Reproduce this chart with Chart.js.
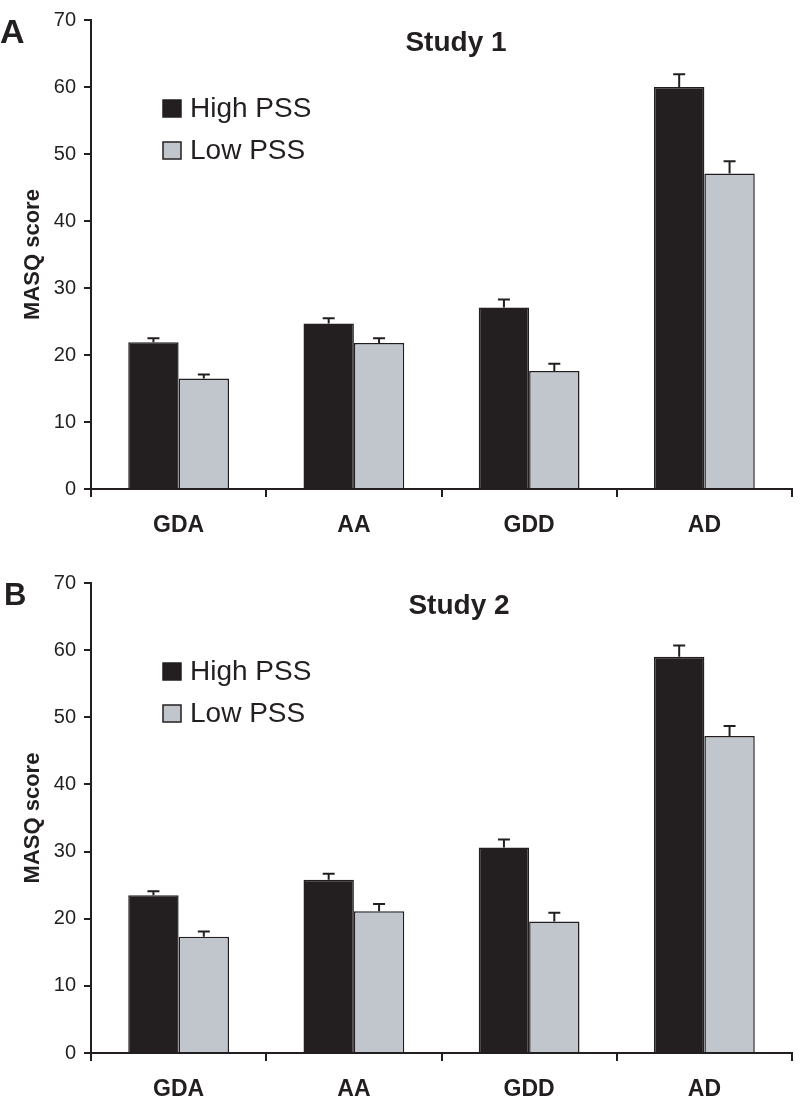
<!DOCTYPE html>
<html>
<head>
<meta charset="utf-8">
<script src="https://cdn.jsdelivr.net/npm/chart.js@4.4.0/dist/chart.umd.min.js"></script>
<style>
  html, body { margin: 0; padding: 0; background: #fff; }
  canvas { display: block; }
</style>
</head>
<body>
<canvas id="chart-a" width="800" height="553"></canvas>
<canvas id="chart-b" width="800" height="553"></canvas>
<script>
const categories = ["GDA", "AA", "GDD", "AD"];
const seriesNames = ["High PSS", "Low PSS"];
const yTicks = [0, 10, 20, 30, 40, 50, 60, 70];

// Study 1
const study1High = [21.9, 24.7, 27.1, 60.0];
const study1HighErr = [0.6, 0.8, 1.2, 1.9];
const study1Low = [16.5, 21.8, 17.6, 47.1];
const study1LowErr = [0.6, 0.7, 1.1, 1.8];

// Study 2
const study2High = [23.5, 25.8, 30.6, 59.0];
const study2HighErr = [0.6, 0.9, 1.2, 1.7];
const study2Low = [17.3, 21.1, 19.6, 47.2];
const study2LowErr = [0.8, 1.1, 1.3, 1.5];

const INK = "#231f20";
const GREY = "#c1c5cc";
const FONT = "'Liberation Sans', Arial, Helvetica, sans-serif";

// barras de erro (só para cima) + legenda + título dentro da área
const extrasPlugin = {
    id: "extras",
    afterDatasetsDraw(chart) {
        const ctx = chart.ctx;
        const yScale = chart.scales.y;
        ctx.save();
        ctx.strokeStyle = INK;
        ctx.lineWidth = 2;
        chart.data.datasets.forEach((ds, i) => {
            const meta = chart.getDatasetMeta(i);
            meta.data.forEach((bar, j) => {
                const top = yScale.getPixelForValue(ds.data[j] + ds.errors[j]);
                ctx.beginPath();
                ctx.moveTo(bar.x, bar.y);
                ctx.lineTo(bar.x, top);
                ctx.moveTo(bar.x - 6, top);
                ctx.lineTo(bar.x + 6, top);
                ctx.stroke();
            });
        });
        ctx.restore();
    },
    afterDraw(chart, args, opts) {
        const ctx = chart.ctx;
        const area = chart.chartArea;
        ctx.save();

        // letra do painel
        ctx.fillStyle = INK;
        ctx.font = "bold " + opts.letterSize + "px " + FONT;
        ctx.textAlign = "left";
        ctx.textBaseline = "alphabetic";
        ctx.fillText(opts.letter, opts.letterX, opts.letterY);

        // título
        ctx.font = "bold 28px " + FONT;
        ctx.textAlign = "center";
        ctx.textBaseline = "middle";
        ctx.fillText(opts.title, opts.titleX, area.top + 23);

        // legenda
        const lx = area.left + 72;
        let ly = area.top + 80;
        chart.data.datasets.forEach((ds) => {
            ctx.fillStyle = ds.backgroundColor;
            ctx.strokeStyle = INK;
            ctx.lineWidth = 1.5;
            ctx.fillRect(lx, ly, 18, 17);
            ctx.strokeRect(lx, ly, 18, 17);
            ctx.fillStyle = INK;
            ctx.font = "28px " + FONT;
            ctx.textAlign = "left";
            ctx.textBaseline = "middle";
            ctx.fillText(ds.label, lx + 27, ly + 9);
            ly += 42;
        });
        ctx.restore();
    }
};

function makeChart(id, opts, high, highErr, low, lowErr) {
    const ctx = document.getElementById(id).getContext("2d");
    return new Chart(ctx, {
        type: "bar",
        data: {
            labels: categories,
            datasets: [{
                label: seriesNames[0],
                data: high,
                errors: highErr,
                backgroundColor: INK,
                borderColor: INK,
                borderWidth: 1.5
            }, {
                label: seriesNames[1],
                data: low,
                errors: lowErr,
                backgroundColor: GREY,
                borderColor: INK,
                borderWidth: 1.5
            }]
        },
        options: {
            responsive: false,
            animation: false,
            layout: { padding: { top: opts.top, right: 8, left: 0, bottom: 0 } },
            datasets: { bar: { categoryPercentage: 0.575, barPercentage: 1.0 } },
            plugins: {
                legend: { display: false },
                tooltip: { enabled: false },
                extras: opts
            },
            scales: {
                x: {
                    afterFit: (scale) => { scale.height = opts.xHeight; },
                    border: { display: true, color: INK, width: 2 },
                    grid: { drawOnChartArea: false, drawTicks: true, tickLength: 8, color: INK, lineWidth: 2, offset: true },
                    ticks: {
                        color: INK,
                        padding: 15,
                        font: { family: FONT, size: 23, weight: "bold" }
                    }
                },
                y: {
                    min: 0,
                    max: 70,
                    afterFit: (scale) => { scale.width = 91; },
                    afterBuildTicks: (scale) => { scale.ticks = yTicks.map((v) => ({ value: v })); },
                    border: { display: true, color: INK, width: 2 },
                    grid: { drawOnChartArea: false, drawTicks: true, tickLength: 7, color: INK, lineWidth: 2 },
                    ticks: {
                        color: INK,
                        padding: 8,
                        font: { family: FONT, size: 20 }
                    },
                    title: {
                        display: true,
                        text: "MASQ score",
                        color: INK,
                        padding: { top: 20, bottom: 0 },
                        font: { family: FONT, size: 22, weight: "bold" }
                    }
                }
            }
        },
        plugins: [extrasPlugin]
    });
}

makeChart("chart-a",
    { top: 20, xHeight: 64, title: "Study 1", titleX: 456, letter: "A", letterSize: 34, letterX: 0, letterY: 43 },
    study1High, study1HighErr, study1Low, study1LowErr);

makeChart("chart-b",
    { top: 30, xHeight: 53, title: "Study 2", titleX: 459, letter: "B", letterSize: 31, letterX: 4, letterY: 52 },
    study2High, study2HighErr, study2Low, study2LowErr);
</script>
</body>
</html>
